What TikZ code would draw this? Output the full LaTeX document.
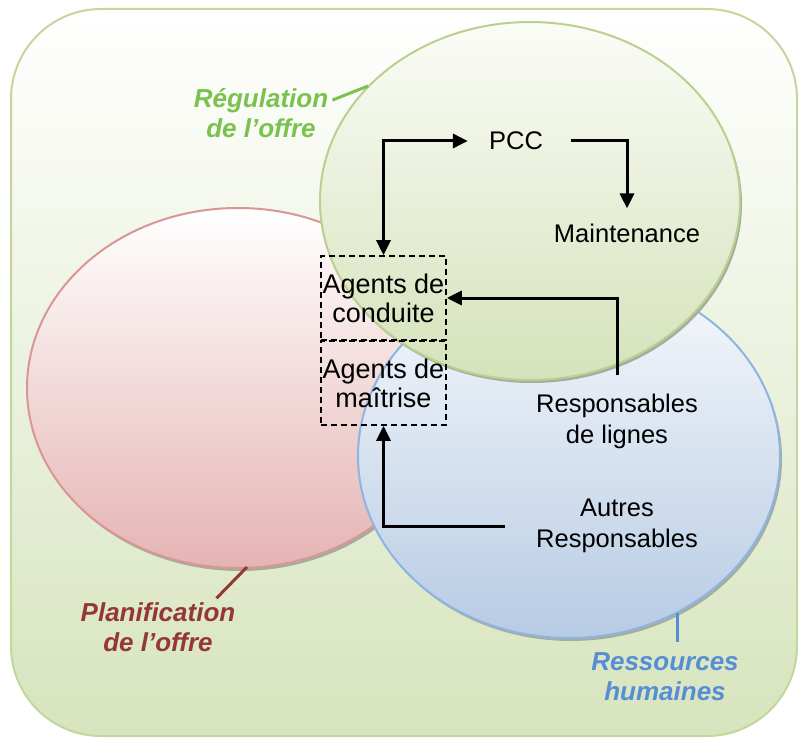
\documentclass[tikz,border=0pt]{standalone}
\usepackage{fontspec}
\setmainfont{Liberation Sans}
\usetikzlibrary{arrows.meta}
\definecolor{bgline}{HTML}{C3D69B}
\definecolor{bgbot}{HTML}{D7E4BD}
\definecolor{grtop}{HTML}{FBFCF7}
\definecolor{grbot}{HTML}{D5E2BA}
\definecolor{grline}{HTML}{B9D08F}
\definecolor{rdtop}{HTML}{FFFFFF}
\definecolor{rdbot}{HTML}{E5B4B3}
\definecolor{rdline}{HTML}{D99694}
\definecolor{bltop}{HTML}{F7F9FC}
\definecolor{blbot}{HTML}{B7CBE4}
\definecolor{blline}{HTML}{8EB4E3}
\definecolor{shad}{HTML}{8E9A86}
\definecolor{labgreen}{HTML}{79C24E}
\definecolor{labred}{HTML}{953735}
\definecolor{labblue}{HTML}{558ED5}
\begin{document}
\begin{tikzpicture}[x=1pt,y=-1pt,
  txt/.style={font=\fontsize{25.5}{31}\selectfont, align=center, inner sep=0pt},
  lab/.style={font=\fontsize{26}{30}\selectfont\bfseries\itshape, align=center, inner sep=0pt},
  dbox/.style={draw, dashed, dash pattern=on 6pt off 4pt, line width=1.6pt, minimum width=125pt, minimum height=84pt, inner sep=0pt, font=\fontsize{27}{29}\selectfont, align=center},
  tip/.tip={Triangle[length=15pt,width=14pt]},
  conn/.style={line width=3pt, -tip},
  ell/.style={line width=2pt}
]
\useasboundingbox (0,0) rectangle (798,738);
% background
\draw[rounded corners=90pt, draw=bgline, line width=2pt, top color=white, bottom color=bgbot] (11,9) rectangle (797,736);
% red ellipse
\fill[shad!80] (240,391) ellipse [x radius=211pt, y radius=180pt];
\draw[ell, draw=rdline, top color=rdtop, bottom color=rdbot] (238,388) ellipse [x radius=211pt, y radius=180pt];
% blue ellipse
\fill[shad!80] (571,459) ellipse [x radius=211pt, y radius=182pt];
\draw[ell, draw=blline, top color=bltop, bottom color=blbot] (569,456) ellipse [x radius=211pt, y radius=182pt];
% green ellipse
\fill[shad!80] (532,204) ellipse [x radius=210pt, y radius=179pt];
\draw[ell, draw=grline, top color=grtop, bottom color=grbot] (530,201) ellipse [x radius=210pt, y radius=179pt];
% nodes
\node[dbox] (cond) at (383.5,298) {Agents de\\conduite};
\node[dbox] (maitr) at (383.5,383) {Agents de\\maîtrise};
\node[txt] (pcc) at (516,141) {PCC};
\node[txt] (maint) at (627,233) {Maintenance};
\node[txt] (resp) at (617,421) {Responsables\\de lignes};
\node[txt] (autres) at (617,526) {Autres\\Responsables};
% connectors
\draw[line width=3pt, tip-tip] (cond.north) |- ([xshift=-21pt]pcc.west);
\draw[conn] ([xshift=28pt]pcc.east) -| ([yshift=15pt]maint.north);
\draw[conn] ([yshift=18pt]resp.north) |- (cond.east);
\draw[conn] ([xshift=-31pt]autres.west) -| (maitr.south);
% labels
\node[lab, text=labgreen] (reg) at (261,113) {Régulation\\de l’offre};
\node[lab, text=labred] (plan) at (158,627) {Planification\\de l’offre};
\node[lab, text=labblue] (rh) at (665,677) {Ressources\\humaines};
\draw[labgreen, line width=3pt] ([xshift=4pt,yshift=-12pt]reg.north east) -- (368,86);
\draw[labred, line width=3pt] ([xshift=-19pt,yshift=4pt]plan.north east) -- (247,567);
\draw[labblue, line width=3pt] ([xshift=12pt,yshift=11pt]rh.north) -- (677,613);
\end{tikzpicture}
\end{document}
